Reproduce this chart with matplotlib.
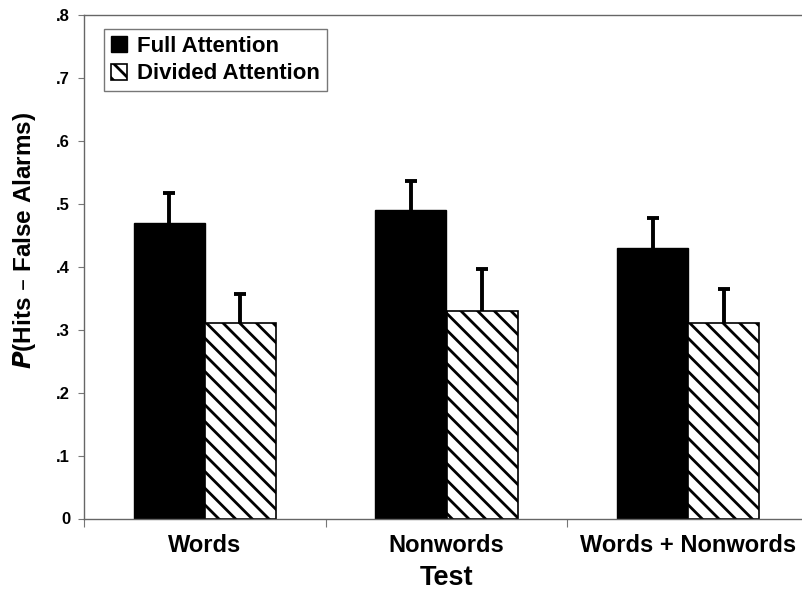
import numpy as np
import matplotlib
matplotlib.use('Agg')
import matplotlib.pyplot as plt

tests = ['Words', 'Nonwords', 'Words + Nonwords']
full_attention = [0.47, 0.49, 0.43]
full_err = [0.047, 0.047, 0.047]
divided_attention = [0.31, 0.33, 0.31]
divided_err = [0.047, 0.067, 0.055]
yticks = [0, 0.1, 0.2, 0.3, 0.4, 0.5, 0.6, 0.7, 0.8]
ytick_labels = ['0', '.1', '.2', '.3', '.4', '.5', '.6', '.7', '.8']

plt.rcParams['font.family'] = ['Liberation Sans', 'DejaVu Sans']
plt.rcParams['font.weight'] = 'bold'
plt.rcParams['hatch.linewidth'] = 2.0

fig = plt.figure(figsize=(8.02, 5.94), dpi=100)
ax = fig.add_axes([84 / 802, 75.5 / 594, 725 / 802, 503.5 / 594])

x = np.arange(len(tests))
w = 0.295
err_kw = dict(elinewidth=2.8, capthick=2.8, ecolor='black')

b1 = ax.bar(x - w / 2, full_attention, w, color='black', edgecolor='black',
            label='Full Attention',
            yerr=[np.zeros(3), full_err], capsize=4.5, error_kw=err_kw)
b2 = ax.bar(x + w / 2, divided_attention, w, color='white', edgecolor='black',
            hatch='\\\\', linewidth=1.2, label='Divided Attention',
            yerr=[np.zeros(3), divided_err], capsize=4.5, error_kw=err_kw)
# only upper caps
for b in (b1, b2):
    b.errorbar.lines[1][0].set_visible(False)

ax.set_xlim(-0.5, 2.5)
ax.set_ylim(0, 0.8)
ax.set_yticks(yticks)
ax.set_yticklabels(ytick_labels, fontsize=12, fontweight='bold')

# group boundaries as major ticks, names as minor labels
ax.set_xticks([-0.5, 0.5, 1.5, 2.5])
ax.set_xticklabels([])
ax.set_xticks(x, minor=True)
ax.set_xticklabels(tests, minor=True, fontsize=17, fontweight='bold')
ax.tick_params(axis='x', which='minor', length=0, pad=11)
ax.tick_params(axis='x', which='major', length=6, color='#777777')
ax.tick_params(axis='y', length=4, color='#777777', pad=6)

for s in ['left', 'bottom', 'top']:
    ax.spines[s].set_color('#666666')
    ax.spines[s].set_linewidth(1.0)
ax.spines['right'].set_visible(False)

ax.set_xlabel('Test', fontsize=19.5, fontweight='bold', labelpad=6)
fig.text(0.03, 1 - 240 / 594, r'$\mathbfit{P}$(Hits – False Alarms)',
         rotation=90, ha='center', va='center', fontsize=17.5,
         fontweight='bold')

leg = ax.legend(loc='upper left', bbox_to_anchor=(0.028, 0.972), fontsize=16,
                frameon=True, fancybox=False, handlelength=0.72,
                handleheight=0.72, handletextpad=0.45, borderpad=0.3,
                labelspacing=0.3, borderaxespad=0)
leg.get_frame().set_edgecolor('#555555')
leg.get_frame().set_linewidth(1.0)
for t in leg.get_texts():
    t.set_fontweight('bold')

fig.savefig('out.png', dpi=100)
